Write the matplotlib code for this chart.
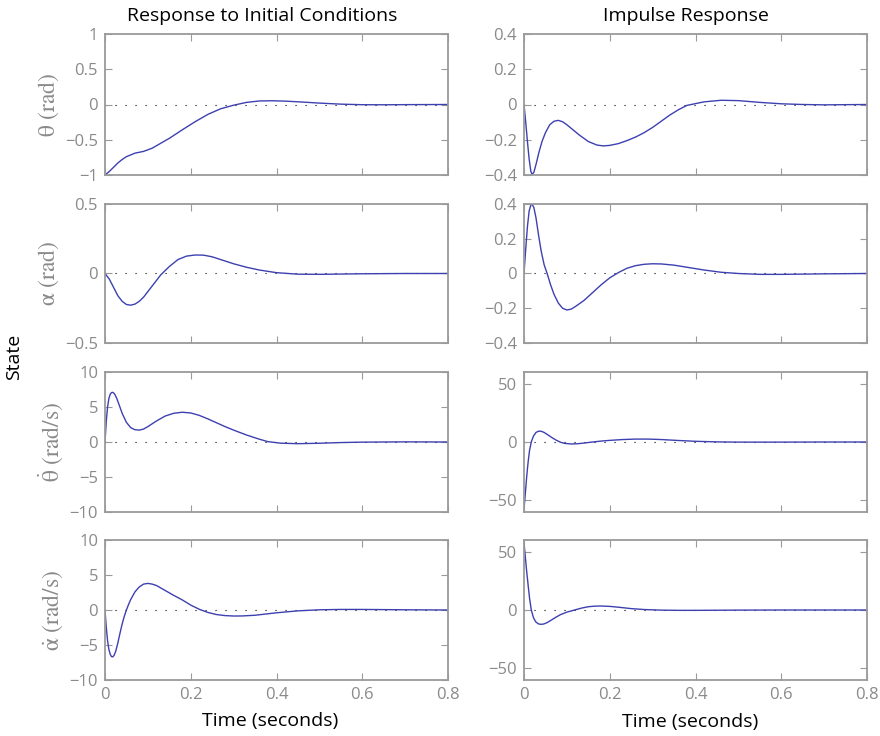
import numpy as np
import matplotlib
matplotlib.use('Agg')
import matplotlib.pyplot as plt

plt.rcParams['font.family'] = ['Open Sans', 'DejaVu Sans']
plt.rcParams['mathtext.fontset'] = 'stix'

# ---- data (time in seconds) ----
# response to initial conditions
t_th0 = [0, 0.01, 0.02, 0.03, 0.04, 0.05, 0.07, 0.09, 0.11, 0.13, 0.15, 0.18, 0.21, 0.24, 0.27,
         0.30, 0.33, 0.36, 0.39, 0.42, 0.46, 0.50, 0.55, 0.60, 0.65, 0.70, 0.80]
th0 = [-1, -0.95, -0.89, -0.83, -0.78, -0.74, -0.69, -0.665, -0.62, -0.55, -0.48, -0.36, -0.245,
       -0.14, -0.06, -0.01, 0.03, 0.05, 0.053, 0.048, 0.035, 0.02, 0.005, -0.003, -0.004, -0.002, 0]

t_al0 = [0, 0.01, 0.02, 0.03, 0.04, 0.05, 0.06, 0.07, 0.08, 0.09, 0.10, 0.11, 0.12, 0.13, 0.15,
         0.17, 0.19, 0.21, 0.23, 0.25, 0.27, 0.30, 0.33, 0.36, 0.40, 0.45, 0.50, 0.55, 0.60, 0.70, 0.80]
al0 = [0, -0.04, -0.10, -0.16, -0.20, -0.223, -0.228, -0.22, -0.20, -0.17, -0.13, -0.09, -0.05,
       -0.01, 0.05, 0.10, 0.125, 0.133, 0.132, 0.12, 0.10, 0.07, 0.045, 0.025, 0.006, -0.005,
       -0.006, -0.004, -0.002, 0.0, 0]

t_thd0 = [0, 0.003, 0.006, 0.009, 0.012, 0.015, 0.018, 0.022, 0.027, 0.033, 0.04, 0.05, 0.06,
          0.07, 0.08, 0.09, 0.10, 0.12, 0.14, 0.16, 0.18, 0.20, 0.22, 0.24, 0.26, 0.28, 0.30,
          0.33, 0.36, 0.38, 0.41, 0.45, 0.50, 0.55, 0.60, 0.70, 0.80]
thd0 = [0, 3.0, 5.0, 6.2, 6.8, 7.05, 7.1, 6.9, 6.3, 5.3, 4.1, 2.8, 2.05, 1.75, 1.7, 1.85, 2.2,
        3.0, 3.7, 4.1, 4.25, 4.15, 3.8, 3.3, 2.75, 2.2, 1.7, 1.0, 0.4, 0.05, -0.17, -0.24,
        -0.18, -0.08, -0.02, 0.02, 0]

t_ald0 = [0, 0.003, 0.006, 0.009, 0.012, 0.015, 0.018, 0.021, 0.025, 0.03, 0.035, 0.04, 0.045,
          0.05, 0.055, 0.06, 0.07, 0.08, 0.09, 0.10, 0.11, 0.12, 0.14, 0.16, 0.18, 0.20, 0.22,
          0.24, 0.26, 0.28, 0.30, 0.32, 0.35, 0.40, 0.45, 0.50, 0.55, 0.60, 0.70, 0.80]
ald0 = [0, -2.5, -4.4, -5.6, -6.3, -6.65, -6.7, -6.5, -5.9, -4.7, -3.3, -2.0, -0.9, 0, 0.8, 1.5,
        2.6, 3.3, 3.7, 3.8, 3.7, 3.5, 2.8, 2.1, 1.45, 0.7, 0.1, -0.35, -0.65, -0.8, -0.86, -0.85,
        -0.75, -0.4, -0.12, 0.03, 0.08, 0.08, 0.03, 0]

# impulse response
t_thi = [0, 0.004, 0.008, 0.012, 0.016, 0.019, 0.023, 0.028, 0.035, 0.042, 0.05, 0.06, 0.07,
         0.08, 0.09, 0.10, 0.115, 0.13, 0.15, 0.17, 0.185, 0.20, 0.22, 0.24, 0.26, 0.28, 0.30,
         0.32, 0.34, 0.36, 0.38, 0.42, 0.46, 0.50, 0.55, 0.60, 0.65, 0.70, 0.80]
thi = [0, -0.10, -0.21, -0.31, -0.38, -0.396, -0.385, -0.34, -0.27, -0.21, -0.16, -0.115, -0.095,
       -0.09, -0.098, -0.115, -0.145, -0.175, -0.21, -0.23, -0.235, -0.232, -0.222, -0.205,
       -0.185, -0.16, -0.13, -0.095, -0.06, -0.03, -0.005, 0.015, 0.024, 0.022, 0.012, 0.004,
       0, -0.002, 0]

t_ali = [0, 0.004, 0.008, 0.012, 0.016, 0.019, 0.023, 0.028, 0.034, 0.040, 0.047, 0.054, 0.062,
         0.07, 0.08, 0.09, 0.10, 0.11, 0.12, 0.14, 0.16, 0.18, 0.20, 0.22, 0.24, 0.26, 0.28,
         0.30, 0.32, 0.35, 0.38, 0.42, 0.46, 0.50, 0.55, 0.60, 0.70, 0.80]
ali = [0, 0.14, 0.27, 0.36, 0.395, 0.398, 0.38, 0.32, 0.22, 0.13, 0.05, 0, -0.065, -0.12, -0.17,
       -0.2, -0.21, -0.205, -0.19, -0.155, -0.11, -0.065, -0.025, 0.005, 0.03, 0.045, 0.053,
       0.056, 0.055, 0.048, 0.036, 0.02, 0.007, 0.0, -0.005, -0.005, -0.002, 0]

t_thdi = [0, 0.002, 0.004, 0.006, 0.008, 0.010, 0.013, 0.017, 0.022, 0.028, 0.034, 0.04, 0.047,
          0.055, 0.065, 0.075, 0.085, 0.095, 0.11, 0.125, 0.14, 0.16, 0.18, 0.20, 0.23, 0.26,
          0.29, 0.32, 0.36, 0.40, 0.45, 0.50, 0.60, 0.70, 0.80]
thdi = [-57, -49, -40, -31, -23, -16, -7, 0, 5, 8.2, 9.3, 9.2, 8.2, 6.3, 3.8, 1.6, -0.2, -1.2,
        -1.7, -1.5, -0.9, 0, 0.8, 1.4, 2.1, 2.5, 2.5, 2.1, 1.3, 0.6, 0.1, -0.1, -0.1, 0, 0]

t_aldi = [0, 0.002, 0.004, 0.006, 0.008, 0.010, 0.013, 0.017, 0.022, 0.027, 0.033, 0.039, 0.046,
          0.054, 0.063, 0.073, 0.085, 0.10, 0.118, 0.135, 0.15, 0.165, 0.18, 0.20, 0.22, 0.25,
          0.28, 0.32, 0.36, 0.40, 0.45, 0.50, 0.60, 0.70, 0.80]
aldi = [57, 50, 42, 34, 27, 20, 10, 0, -6.5, -10, -11.8, -12.3, -12, -10.8, -8.8, -6.5, -4.0,
        -1.8, 0, 1.7, 2.8, 3.3, 3.4, 3.1, 2.4, 1.2, 0.4, -0.1, -0.3, -0.3, -0.2, -0.1, 0, 0, 0]

ylabels = [r'$\mathrm{\theta\ (rad)}$', r'$\mathrm{\alpha\ (rad)}$',
           r'$\mathrm{\dot{\theta}\ (rad/s)}$', r'$\mathrm{\dot{\alpha}\ (rad/s)}$']
xticks = [0, 0.2, 0.4, 0.6, 0.8]

left = [(t_th0, th0, (-1, 1), [-1, -0.5, 0, 0.5, 1]),
        (t_al0, al0, (-0.5, 0.5), [-0.5, 0, 0.5]),
        (t_thd0, thd0, (-10, 10), [-10, -5, 0, 5, 10]),
        (t_ald0, ald0, (-10, 10), [-10, -5, 0, 5, 10])]
right = [(t_thi, thi, (-0.4, 0.4), [-0.4, -0.2, 0, 0.2, 0.4]),
         (t_ali, ali, (-0.4, 0.4), [-0.4, -0.2, 0, 0.2, 0.4]),
         (t_thdi, thdi, (-60, 60), [-50, 0, 50]),
         (t_aldi, aldi, (-60, 60), [-50, 0, 50])]

W, H = 880, 736
fig = plt.figure(figsize=(W / 100, H / 100), dpi=100)

rows_px = [(34, 175), (204, 343), (372, 512), (540, 680)]
cols_px = [(105, 448), (524, 867)]

gray = '#9a9a9a'
tickgray = '#8a8a8a'
blue = '#3d40b0'

for c, panels in enumerate([left, right]):
    x0, x1 = cols_px[c]
    for r, (t, y, ylim, yt) in enumerate(panels):
        top, bot = rows_px[r]
        ax = fig.add_axes([x0 / W, 1 - bot / H, (x1 - x0) / W, (bot - top) / H])
        ax.plot([0, 0.8], [0, 0], color='k', lw=0.8, linestyle=(0, (1, 8)), zorder=1)
        ax.plot(t, y, color=blue, lw=1.0, zorder=2)
        ax.set_xlim(0, 0.8)
        ax.set_ylim(*ylim)
        ax.set_xticks(xticks)
        ax.set_yticks(yt)
        ax.set_yticklabels([('%g' % v).replace('-', '\u2212') for v in yt])
        if r == 3:
            ax.set_xticklabels([('%g' % v) for v in xticks])
        else:
            ax.set_xticklabels([])
        ax.tick_params(direction='in', top=True, right=True, length=5, width=0.8,
                       colors=gray, labelcolor=tickgray, labelsize=12, pad=5)
        for s in ax.spines.values():
            s.set_color(gray)
            s.set_linewidth(1.3)
        if c == 0:
            ax.set_ylabel(ylabels[r], color=tickgray, fontsize=17, labelpad=3)

fig.text(262 / W, 1 - 16 / H, 'Response to Initial Conditions', ha='center', va='center',
         fontsize=14, color='k')
fig.text(686 / W, 1 - 16 / H, 'Impulse Response', ha='center', va='center',
         fontsize=14, color='k')
fig.text(270 / W, 1 - 721 / H, 'Time (seconds)', ha='center', va='center', fontsize=14)
fig.text(690 / W, 1 - 722 / H, 'Time (seconds)', ha='center', va='center', fontsize=14)
fig.text(14 / W, 1 - 357 / H, 'State', ha='center', va='center', rotation=90, fontsize=14)

fig.savefig('out.png', dpi=100)
